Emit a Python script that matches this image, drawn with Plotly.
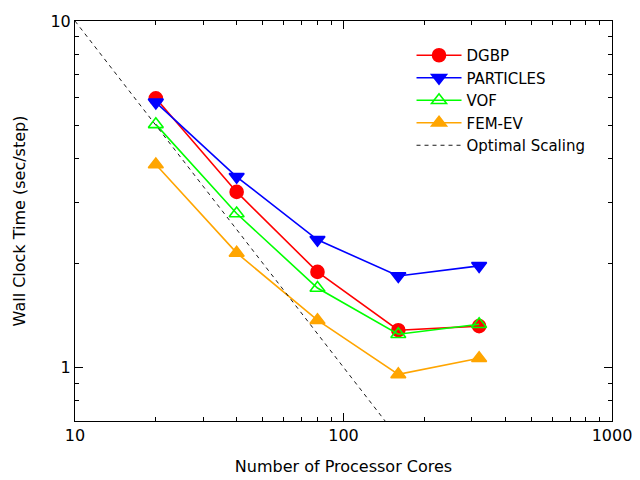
import plotly.graph_objects as go

cores = [20, 40, 80, 160, 320]
dgbp = [5.98, 3.21, 1.886, 1.28, 1.315]
particles = [5.82, 3.55, 2.335, 1.835, 1.963]
vof = [5.03, 2.78, 1.694, 1.246, 1.332]
fem_ev = [3.85, 2.14, 1.368, 0.954, 1.062]

opt_x = [10, 1000]
opt_y = [10, 0.1]

x_ticks = [10, 100, 1000]
x_labels = ["10", "100", "1000"]
y_ticks = [1, 10]
y_labels = ["1", "10"]

FONT = "DejaVu Sans"

fig = go.Figure()

series = [
    ("DGBP", dgbp, "red", "circle"),
    ("PARTICLES", particles, "blue", "triangle-down"),
    ("VOF", vof, "#00ff00", "triangle-up-open"),
    ("FEM-EV", fem_ev, "orange", "triangle-up"),
]
for name, vals, color, sym in series:
    fig.add_trace(go.Scatter(
        x=cores, y=vals, name=name, mode="lines+markers",
        line=dict(color=color, width=1.6),
        marker=dict(symbol=sym, size=13, color=color,
                    line=dict(color=color, width=1.6)),
    ))

fig.add_trace(go.Scatter(
    x=opt_x, y=opt_y, name="Optimal Scaling", mode="lines",
    line=dict(color="black", width=0.9, dash="4px,4px"),
))

axis_common = dict(
    type="log", showgrid=False, zeroline=False, automargin=False,
    showline=True, linecolor="black", linewidth=1, mirror="ticks",
    ticks="inside", ticklen=8, tickcolor="black", tickwidth=1,
    tickfont=dict(family=FONT, size=16, color="black"),
    minor=dict(ticks="inside", ticklen=4, tickcolor="black", dtick="D1",
               showgrid=False),
)

# the page adds ~8px around the plot, so margins are shifted to compensate
fig.update_layout(
    width=640, height=480,
    margin=dict(l=67, r=36, t=13, b=67),
    paper_bgcolor="white", plot_bgcolor="white",
    font=dict(family=FONT, size=16, color="black"),
    showlegend=True,
    legend=dict(
        x=0.96, y=0.955, xanchor="right", yanchor="top",
        bgcolor="rgba(0,0,0,0)", borderwidth=0,
        font=dict(family=FONT, size=15, color="black"),
        itemwidth=45, tracegroupgap=0,
    ),
    xaxis=dict(axis_common, range=[1, 3], tickvals=x_ticks, ticktext=x_labels,
               title=dict(text="Number of Processor Cores",
                          font=dict(family=FONT, size=16), standoff=16)),
    yaxis=dict(axis_common, range=[-0.155, 1], tickvals=y_ticks, ticktext=y_labels,
               title=dict(text="Wall Clock Time (sec/step)",
                          font=dict(family=FONT, size=16), standoff=20)),
)

fig.write_html("out.html")
